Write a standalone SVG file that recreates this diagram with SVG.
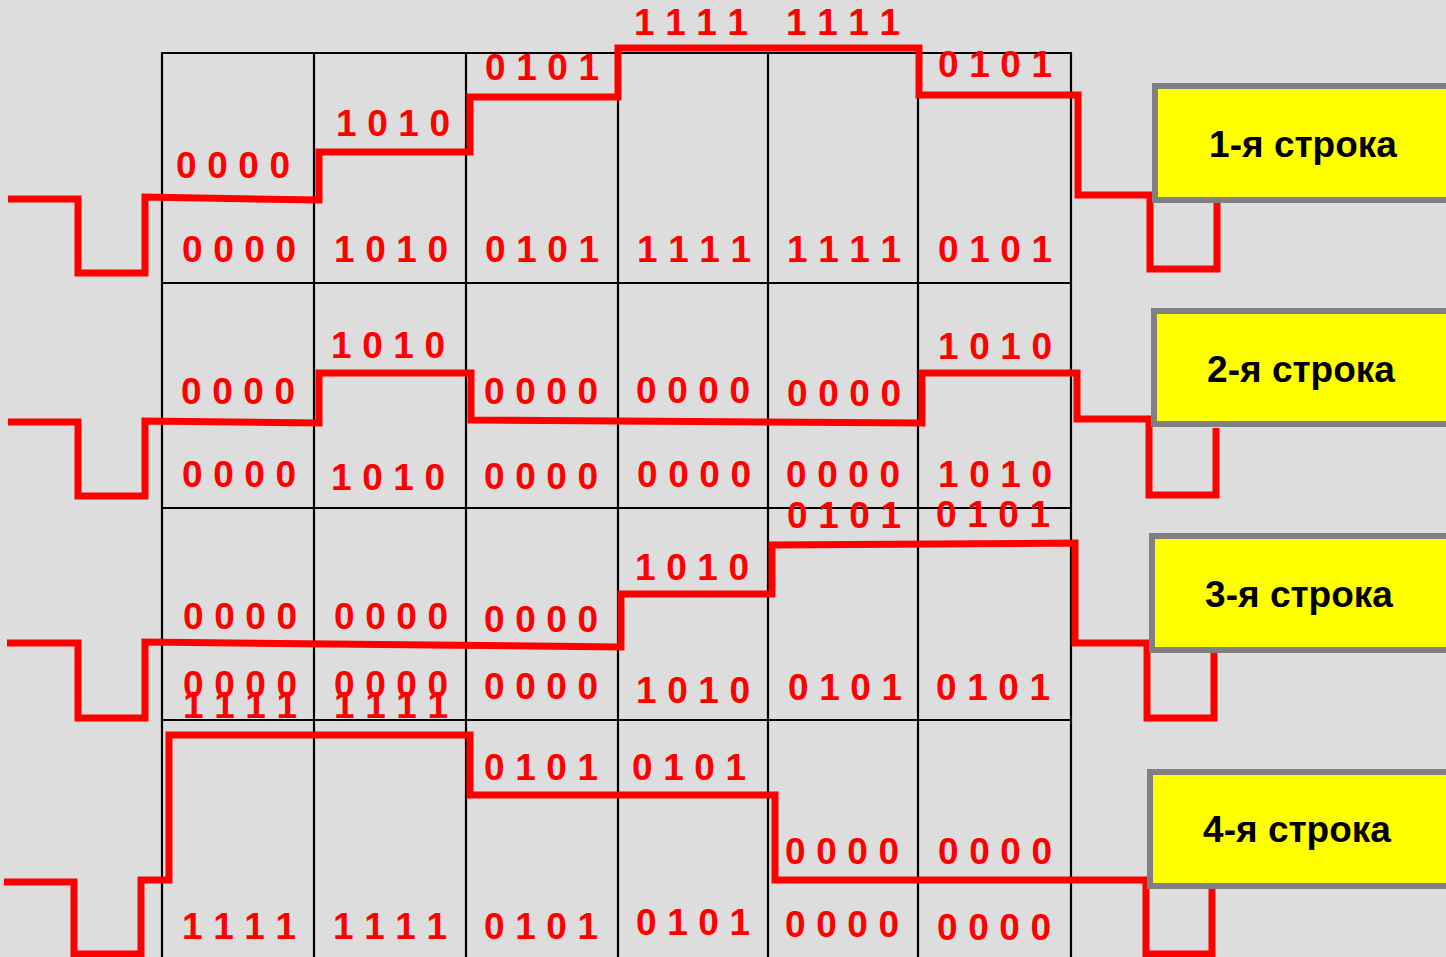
<svg xmlns="http://www.w3.org/2000/svg" width="1446" height="957" viewBox="0 0 1446 957">
<style>
.grid{stroke:#000;stroke-width:2.2;fill:none}
.sig{stroke:#ff0000;stroke-width:7;fill:none;stroke-linejoin:miter;stroke-linecap:butt}
.d{font-family:"Liberation Sans",Arial,sans-serif;font-weight:bold;font-size:37px;fill:#ff0000;text-anchor:middle}
.box{fill:#ffff00;stroke:#808080;stroke-width:6}
.lbl{font-family:"Liberation Sans",Arial,sans-serif;font-weight:bold;font-size:37px;fill:#000;text-anchor:middle}
</style>
<rect x="0" y="0" width="1446" height="957" fill="#dddddd"/>
<g id="grid" class="grid">
<path d="M162,53V957M314,53V957M466,53V957M618,53V957M768,53V957M918,53V957M1071,53V957"/>
<path d="M161,53H1072M161,283H1072M161,508H1072M161,720H1072"/>
</g>
<g id="connectors">
<path class="sig" d="M8,199H78V273H145V197L319,200V152H470V97H618V48H919V95H1078V195H1150V269H1217V203"/>
<path class="sig" d="M8,422H78V496H145V421L319,423V373H471V420L922,423V373H1077V419H1149V495H1216V428"/>
<path class="sig" d="M7,643H78V718H145V642L621,647V594H772V545L1075,543V643H1147V718H1214V653"/>
<path class="sig" d="M4,882H74V954H141V880H169V735H470V795H775V880H1146V954H1212V889"/>
</g>
<g id="codes" class="d">
<text x="233" y="178" textLength="114" lengthAdjust="spacing">0 0 0 0</text>
<text x="393" y="136" textLength="114" lengthAdjust="spacing">1 0 1 0</text>
<text x="542" y="80" textLength="114" lengthAdjust="spacing">0 1 0 1</text>
<text x="691" y="35" textLength="114" lengthAdjust="spacing">1 1 1 1</text>
<text x="843" y="35" textLength="114" lengthAdjust="spacing">1 1 1 1</text>
<text x="995" y="77" textLength="114" lengthAdjust="spacing">0 1 0 1</text>
<text x="239" y="262" textLength="114" lengthAdjust="spacing">0 0 0 0</text>
<text x="391" y="262" textLength="114" lengthAdjust="spacing">1 0 1 0</text>
<text x="542" y="262" textLength="114" lengthAdjust="spacing">0 1 0 1</text>
<text x="694" y="262" textLength="114" lengthAdjust="spacing">1 1 1 1</text>
<text x="844" y="262" textLength="114" lengthAdjust="spacing">1 1 1 1</text>
<text x="995" y="262" textLength="114" lengthAdjust="spacing">0 1 0 1</text>

<text x="238" y="404" textLength="114" lengthAdjust="spacing">0 0 0 0</text>
<text x="388" y="358" textLength="114" lengthAdjust="spacing">1 0 1 0</text>
<text x="541" y="404" textLength="114" lengthAdjust="spacing">0 0 0 0</text>
<text x="693" y="403" textLength="114" lengthAdjust="spacing">0 0 0 0</text>
<text x="844" y="406" textLength="114" lengthAdjust="spacing">0 0 0 0</text>
<text x="995" y="359" textLength="114" lengthAdjust="spacing">1 0 1 0</text>
<text x="239" y="487" textLength="114" lengthAdjust="spacing">0 0 0 0</text>
<text x="388" y="490" textLength="114" lengthAdjust="spacing">1 0 1 0</text>
<text x="541" y="489" textLength="114" lengthAdjust="spacing">0 0 0 0</text>
<text x="694" y="487" textLength="114" lengthAdjust="spacing">0 0 0 0</text>
<text x="843" y="487" textLength="114" lengthAdjust="spacing">0 0 0 0</text>
<text x="995" y="487" textLength="114" lengthAdjust="spacing">1 0 1 0</text>

<text x="240" y="629" textLength="114" lengthAdjust="spacing">0 0 0 0</text>
<text x="391" y="629" textLength="114" lengthAdjust="spacing">0 0 0 0</text>
<text x="541" y="632" textLength="114" lengthAdjust="spacing">0 0 0 0</text>
<text x="692" y="580" textLength="114" lengthAdjust="spacing">1 0 1 0</text>
<text x="844" y="528" textLength="114" lengthAdjust="spacing">0 1 0 1</text>
<text x="993" y="527" textLength="114" lengthAdjust="spacing">0 1 0 1</text>
<text x="240" y="697" textLength="114" lengthAdjust="spacing">0 0 0 0</text>
<text x="391" y="697" textLength="114" lengthAdjust="spacing">0 0 0 0</text>
<text x="541" y="699" textLength="114" lengthAdjust="spacing">0 0 0 0</text>
<text x="693" y="703" textLength="114" lengthAdjust="spacing">1 0 1 0</text>
<text x="845" y="700" textLength="114" lengthAdjust="spacing">0 1 0 1</text>
<text x="993" y="700" textLength="114" lengthAdjust="spacing">0 1 0 1</text>

<text x="240" y="718" textLength="114" lengthAdjust="spacing">1 1 1 1</text>
<text x="391" y="718" textLength="114" lengthAdjust="spacing">1 1 1 1</text>
<text x="541" y="780" textLength="114" lengthAdjust="spacing">0 1 0 1</text>
<text x="689" y="780" textLength="114" lengthAdjust="spacing">0 1 0 1</text>
<text x="842" y="864" textLength="114" lengthAdjust="spacing">0 0 0 0</text>
<text x="995" y="864" textLength="114" lengthAdjust="spacing">0 0 0 0</text>
<text x="239" y="939" textLength="114" lengthAdjust="spacing">1 1 1 1</text>
<text x="390" y="939" textLength="114" lengthAdjust="spacing">1 1 1 1</text>
<text x="541" y="939" textLength="114" lengthAdjust="spacing">0 1 0 1</text>
<text x="693" y="935" textLength="114" lengthAdjust="spacing">0 1 0 1</text>
<text x="842" y="937" textLength="114" lengthAdjust="spacing">0 0 0 0</text>
<text x="994" y="940" textLength="114" lengthAdjust="spacing">0 0 0 0</text>
</g>
<g id="row1">
<rect class="box" x="1155" y="86" width="310" height="114"/>
<text class="lbl" x="1303" y="157">1-я строка</text>
</g>
<g id="row2">
<rect class="box" x="1154" y="311" width="310" height="113"/>
<text class="lbl" x="1301" y="382">2-я строка</text>
</g>
<g id="row3">
<rect class="box" x="1152" y="536" width="310" height="114"/>
<text class="lbl" x="1299" y="607">3-я строка</text>
</g>
<g id="row4">
<rect class="box" x="1150" y="772" width="310" height="114"/>
<text class="lbl" x="1297" y="842">4-я строка</text>
</g>
</svg>
